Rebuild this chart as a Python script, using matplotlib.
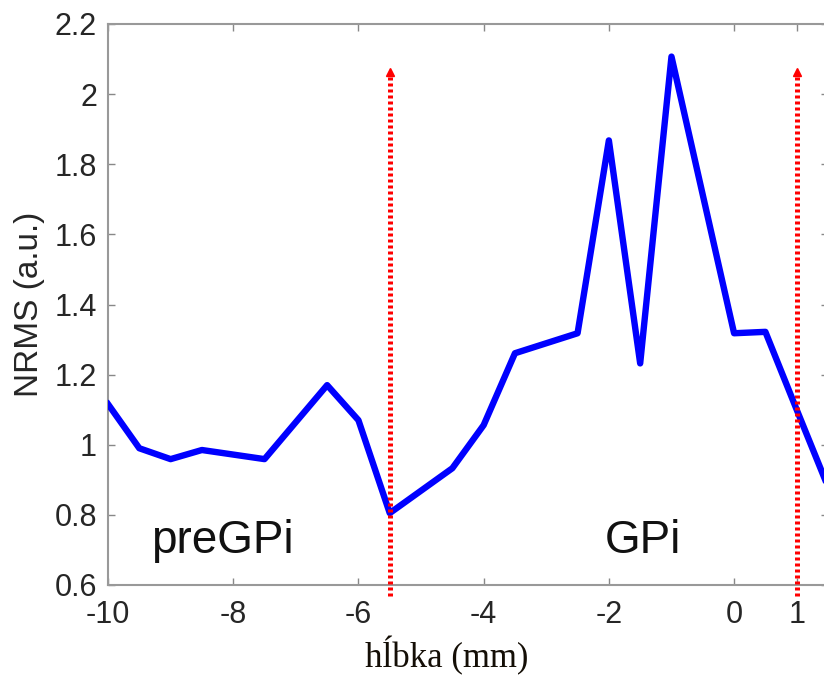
import matplotlib
matplotlib.use("Agg")
import matplotlib.pyplot as plt

# hĺbka (mm) vs NRMS
depth = [-10, -9.5, -9, -8.5, -8, -7.5, -6.5, -6, -5.5, -4.5, -4, -3.5, -2.5, -2, -1.5, -1, 0, 0.5, 1, 1.5]
nrms = [1.116, 0.990, 0.959, 0.985, 0.972, 0.959, 1.170, 1.070, 0.805, 0.933, 1.056, 1.261, 1.318,
        1.868, 1.232, 2.107, 1.318, 1.322, 1.10, 0.88]

borders = [-5.5, 1]
regions = ["preGPi", "GPi"]
region_x = [-8.17, -1.45]
xticks = [-10, -8, -6, -4, -2, 0, 1]
yticks = [0.6, 0.8, 1, 1.2, 1.4, 1.6, 1.8, 2, 2.2]

plt.rcParams['font.family'] = ['Liberation Sans', 'DejaVu Sans']

fig = plt.figure(figsize=(8.24, 6.78), dpi=100)
ax = fig.add_axes([108 / 824, 1 - 585 / 678, 720 / 824, 561 / 678])

ax.plot(depth, nrms, color='#0000ff', lw=4.6, solid_joinstyle='round', zorder=3)

for b in borders:
    ax.plot([b, b], [0.57, 2.055], linestyle=(0, (0.6, 0.6)), color='#ff0000', lw=3.6,
            clip_on=False, zorder=4)
    ax.plot([b], [2.062], marker='^', color='#ff0000', ms=6, clip_on=False, zorder=4)

for name, xp in zip(regions, region_x):
    ax.text(xp, 0.69, name, fontsize=33, ha='center', va='baseline', color='#111111')

ax.set_xlim(-10, 1.5)
ax.set_ylim(0.6, 2.2)
ax.set_xticks(xticks)
ax.set_xticklabels([str(t) for t in xticks])
ax.set_yticks(yticks)
ax.set_yticklabels(['0.6', '0.8', '1', '1.2', '1.4', '1.6', '1.8', '2', '2.2'])
ax.tick_params(direction='in', length=5, width=1, color='#888888', labelsize=22,
               labelcolor='#262626', top=True, right=True)
ax.tick_params(axis='x', pad=11)
ax.tick_params(axis='y', pad=8)
for s in ax.spines.values():
    s.set_color('#999999')
    s.set_linewidth(1.5)

ax.set_ylabel('NRMS (a.u.)', fontsize=24, color='#262626')
ax.yaxis.set_label_coords(-0.088, 0.5)
ax.set_xlabel('h\u013abka (mm)', fontsize=25, family=['Liberation Serif', 'DejaVu Serif'],
              color='#140e06')
ax.xaxis.set_label_coords(0.47, -0.092)

fig.savefig('out.png', dpi=100)
